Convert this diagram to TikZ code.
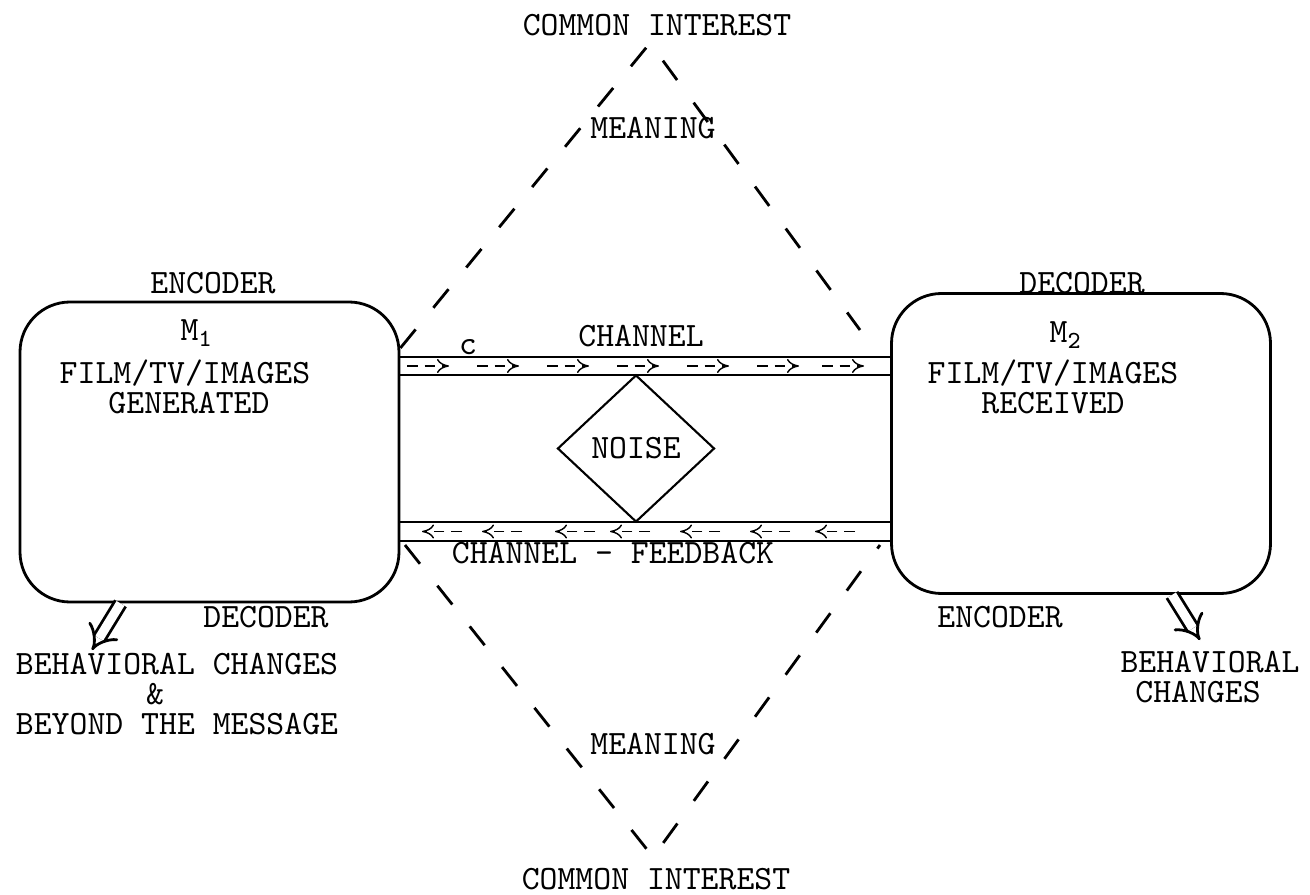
\documentclass[tikz,border=0pt]{standalone}
\usetikzlibrary{positioning,shapes.geometric,arrows.meta}

\begin{document}
\begin{tikzpicture}[
  every node/.style={font=\fontsize{9.7pt}{11pt}\selectfont\ttfamily,inner sep=1pt},
  mbox/.style={draw,thick,rounded corners=5mm,minimum width=3.79cm,minimum height=3cm},
  chanline/.style={semithick},
  flow/.style={densely dashed,-{To[length=1.2mm,width=1.4mm]}},
  meaning/.style={thick,dash pattern=on 2.4mm off 2.8mm},
  outarrow/.style={thick,double,double distance=2.6pt,-{Implies}}
]
  \useasboundingbox (0,0) rectangle (13.1,8.94);

  \node[mbox] (src) at (2.095,4.42) {};
  \node[mbox] (dst) at (10.81,4.505) {};

  \foreach \dy in {9.5,7.7,-7.0,-8.9}
    \draw[chanline] ([yshift=\dy mm]src.east) -- ([yshift=\dy mm]src.east -| dst.west);
  \foreach \x in {4.07,4.77,5.47,6.17,6.87,7.57,8.22}
    \draw[flow] (\x,5.28) -- ++(0.42,0);
  \foreach \x in {4.62,5.22,5.95,6.5,7.2,7.9,8.55}
    \draw[flow] (\x,3.625) -- ++(-0.4,0);

  \node[draw,semithick,diamond,minimum width=1.57cm,minimum height=1.47cm,inner sep=0pt] (noise) at (6.36,4.455) {NOISE};

  \coordinate (ciTop) at (6.50,8.51);
  \coordinate (ciBot) at (6.53,0.37);
  \coordinate (upR) at (8.60,5.64);
  \coordinate (loL) at (4.05,3.49);
  \coordinate (loR) at (8.80,3.49);
  \draw[meaning] ([yshift=10.4mm]src.east) -- (ciTop) -- (upR);
  \draw[meaning] (loL) -- (ciBot) -- (loR);

  \coordinate (tipL) at (0.92,2.44);
  \coordinate (tipR) at (12.00,2.54);
  \draw[outarrow] ([xshift=-8.9mm]src.south) -- (tipL);
  \draw[outarrow] ([xshift=9.1mm]dst.south) -- (tipR);

  \node (ciA) at (6.57,8.69) {COMMON INTEREST};
  \node (mnA) at (6.53,7.66) {MEANING};
  \node (chA) at (6.41,5.58) {CHANNEL};
  \node (cmark) at (4.68,5.47) {c};
  \node (chB) at (6.13,3.41) {CHANNEL - FEEDBACK};
  \node (mnB) at (6.53,1.50) {MEANING};
  \node (ciB) at (6.56,0.15) {COMMON INTEREST};

  \node (encA) at (2.13,6.11) {ENCODER};
  \node (m1) at (1.97,5.61) {M$_{\mathtt{1}}$};
  \node (filmA) at (1.85,5.21) {FILM/TV/IMAGES};
  \node (gen) at (1.89,4.91) {GENERATED};
  \node (decA) at (2.66,2.77) {DECODER};
  \node (bcA) at (1.77,2.30) {BEHAVIORAL CHANGES};
  \node (amp) at (1.55,2.00) {\&};
  \node (bym) at (1.77,1.70) {BEYOND THE MESSAGE};

  \node (decB) at (10.82,6.11) {DECODER};
  \node (m2) at (10.66,5.59) {M$_{\mathtt{2}}$};
  \node (filmB) at (10.53,5.21) {FILM/TV/IMAGES};
  \node (rec) at (10.53,4.91) {RECEIVED};
  \node (encB) at (10.00,2.77) {ENCODER};
  \node (bcB) at (12.10,2.32) {BEHAVIORAL};
  \node (chg) at (11.98,2.02) {CHANGES};
\end{tikzpicture}
\end{document}
